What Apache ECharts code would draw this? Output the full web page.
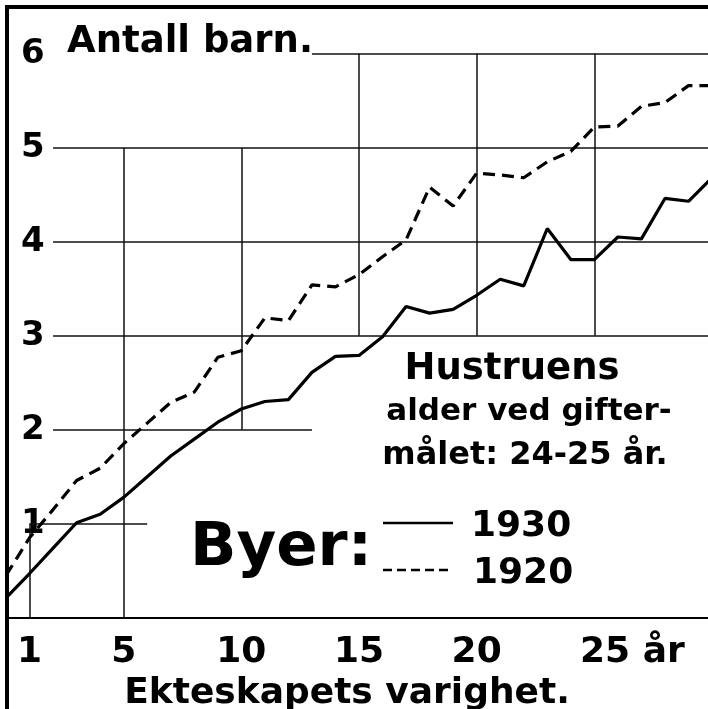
<!DOCTYPE html>
<html>
<head>
<meta charset="utf-8" />
<title>Antall barn - Byer</title>
<script src="https://cdn.jsdelivr.net/npm/echarts@6/dist/echarts.min.js"></script>
<style>
  html, body { margin: 0; padding: 0; background: #fff; }
  #main { width: 708px; height: 709px; }
</style>
</head>
<body>
<div id="main"></div>
<script>
// ekteskapets varighet (år)
var years = [0, 1, 2, 3, 4, 5, 6, 7, 8, 9, 10, 11, 12, 13, 14, 15, 16, 17, 18, 19, 20, 21, 22, 23, 24, 25, 26, 27, 28, 29, 30];
// antall barn, 1930
var barn1930 = [0.21, 0.47, 0.74, 1.01, 1.10, 1.28, 1.50, 1.72, 1.90, 2.08, 2.22, 2.30, 2.32, 2.61, 2.78, 2.79, 2.99, 3.31, 3.24, 3.28, 3.43, 3.60, 3.53, 4.14, 3.81, 3.81, 4.05, 4.03, 4.46, 4.43, 4.68];
// antall barn, 1920
var barn1920 = [0.45, 0.85, 1.15, 1.46, 1.59, 1.85, 2.07, 2.29, 2.40, 2.77, 2.84, 3.19, 3.16, 3.54, 3.52, 3.65, 3.84, 4.02, 4.58, 4.38, 4.73, 4.71, 4.68, 4.85, 4.96, 5.22, 5.23, 5.44, 5.48, 5.66, 5.66];
var xTicks = [1, 5, 10, 15, 20, 25];
var yTicks = [1, 2, 3, 4, 5, 6];

var XMAX = 29.83;
// håndtegnede rutenettlinjer [x1, y1, x2, y2]
var rutenett = [
  [13, 6, XMAX, 6], [2, 5, XMAX, 5], [2, 4, XMAX, 4], [2, 3, XMAX, 3], [2, 2, 13, 2], [1, 1, 6, 1],
  [1, 0, 1, 1], [5, 0, 5, 5], [10, 2, 10, 5], [15, 3, 15, 6], [20, 3, 20, 6], [25, 3, 25, 6]
];

var FONT = '"DejaVu Sans", sans-serif';

function pairs(xs, ys) {
  var out = [];
  for (var i = 0; i < xs.length; i++) out.push([xs[i], ys[i]]);
  return out;
}

var chart = echarts.init(document.getElementById('main'));
var option = {
  animation: false,
  backgroundColor: '#fff',
  title: {
    text: 'Antall barn.',
    left: 62,
    top: 19,
    textStyle: { fontSize: 37, fontWeight: 'bold', fontFamily: FONT, color: '#000' }
  },
  grid: { left: 6, right: 0, top: 6.7, bottom: 91.3, containLabel: false, outerBoundsMode: 'none' },
  xAxis: {
    type: 'value',
    min: 0,
    max: XMAX,
    interval: 1,
    splitLine: { show: false },
    axisTick: { show: false },
    axisLine: { lineStyle: { color: '#000', width: 2 } },
    axisLabel: {
      margin: 17,
      showMaxLabel: false,
      color: '#000',
      fontSize: 36,
      fontWeight: 'bold',
      fontFamily: FONT,
      formatter: function (v) {
        if (xTicks.indexOf(v) < 0) return '';
        if (v === 25) return '{s|}25 år';
        return String(v);
      },
      rich: { s: { width: 76 } }
    },
    name: 'Ekteskapets varighet.',
    nameLocation: 'middle',
    nameGap: 48,
    nameTextStyle: { fontSize: 36, fontWeight: 'bold', fontFamily: FONT, color: '#000', padding: [0, 20, 0, 0] }
  },
  yAxis: {
    type: 'value',
    min: 0,
    max: 6.5,
    interval: 1,
    splitLine: { show: false },
    axisTick: { show: false },
    axisLine: { show: false },
    axisLabel: {
      inside: true,
      margin: 15,
      showMaxLabel: false,
      color: '#000',
      fontSize: 34,
      fontWeight: 'bold',
      fontFamily: FONT,
      formatter: function (v) { return yTicks.indexOf(v) >= 0 ? String(v) : ''; }
    }
  },
  series: [
    {
      type: 'lines',
      coordinateSystem: 'cartesian2d',
      silent: true,
      lineStyle: { color: '#111', width: 1.5, opacity: 1 },
      data: rutenett.map(function (s) { return { coords: [[s[0], s[1]], [s[2], s[3]]] }; })
    },
    {
      name: '1930',
      type: 'line',
      symbol: 'none',
      clip: true,
      lineStyle: { color: '#000', width: 3.2, type: 'solid' },
      data: pairs(years, barn1930)
    },
    {
      name: '1920',
      type: 'line',
      symbol: 'none',
      clip: true,
      lineStyle: { color: '#000', width: 3.2, type: [12, 7] },
      data: pairs(years, barn1920)
    }
  ],
  graphic: [
    {
      type: 'rect',
      shape: { x: 7, y: 7, width: 760, height: 760 },
      style: { fill: 'none', stroke: '#000', lineWidth: 4 }
    },
    {
      type: 'text', x: 512, y: 369,
      style: { text: 'Hustruens', fill: '#000', font: 'bold 37px ' + FONT, textAlign: 'center', textVerticalAlign: 'middle' }
    },
    {
      type: 'text', x: 529, y: 412,
      style: { text: 'alder ved gifter-', fill: '#000', font: 'bold 31px ' + FONT, textAlign: 'center', textVerticalAlign: 'middle' }
    },
    {
      type: 'text', x: 525, y: 456,
      style: { text: 'målet: 24-25 år.', fill: '#000', font: 'bold 32px ' + FONT, textAlign: 'center', textVerticalAlign: 'middle' }
    },
    {
      type: 'text', x: 281, y: 549,
      style: { text: 'Byer:', fill: '#000', font: 'bold 61px ' + FONT, textAlign: 'center', textVerticalAlign: 'middle' }
    },
    {
      type: 'line',
      shape: { x1: 383, y1: 523, x2: 453, y2: 523 },
      style: { stroke: '#000', lineWidth: 2.5 }
    },
    {
      type: 'line',
      shape: { x1: 383, y1: 570, x2: 453, y2: 570 },
      style: { stroke: '#000', lineWidth: 2.5, lineDash: [9, 5] }
    },
    {
      type: 'text', x: 471, y: 527,
      style: { text: '1930', fill: '#000', font: 'bold 36px ' + FONT, textAlign: 'left', textVerticalAlign: 'middle' }
    },
    {
      type: 'text', x: 473, y: 574,
      style: { text: '1920', fill: '#000', font: 'bold 36px ' + FONT, textAlign: 'left', textVerticalAlign: 'middle' }
    }
  ]
};
chart.setOption(option);
</script>
</body>
</html>
